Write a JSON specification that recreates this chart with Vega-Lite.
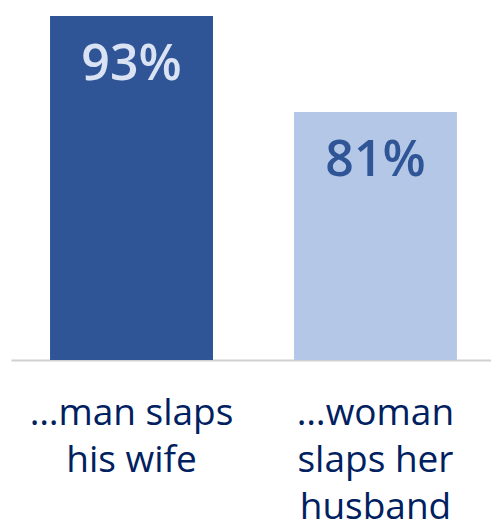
{
  "$schema": "https://vega.github.io/schema/vega-lite/v6.json",
  "width": 485,
  "height": 360,
  "autosize": "none",
  "padding": {"left": 11, "top": 0, "right": 0, "bottom": 160},
  "background": "white",
  "config": {"view": {"stroke": null}, "font": "Open Sans"},
  "data": {"values": [
    {"category": "…man slaps|his wife", "value": 93, "text": "93%"},
    {"category": "…woman|slaps her|husband", "value": 81, "text": "81%"}
  ]},
  "encoding": {
    "x": {
      "field": "category", "type": "nominal", "sort": null,
      "scale": {"paddingInner": 0.332, "paddingOuter": 0.16},
      "axis": {
        "title": null, "labelAngle": 0, "ticks": false,
        "domainColor": "#D0D0D0", "domainWidth": 2,
        "labelFont": "Open Sans", "labelFontSize": 37, "labelColor": "#002060",
        "labelPadding": 35, "labelLineHeight": 47, "labelBaseline": "top",
        "labelExpr": "split(datum.label, '|')", "labelLimit": 0
      }
    }
  },
  "layer": [
    {
      "mark": {"type": "bar"},
      "encoding": {
        "y": {"field": "value", "type": "quantitative", "scale": {"domain": [50, 95], "zero": false}, "axis": null},
        "y2": {"datum": 50},
        "color": {"field": "category", "type": "nominal", "sort": null, "scale": {"range": ["#2F5597", "#B4C7E7"]}, "legend": null}
      }
    },
    {
      "mark": {"type": "text", "baseline": "alphabetic", "dy": 64, "fontSize": 50, "fontWeight": 600, "font": "Open Sans"},
      "encoding": {
        "y": {"field": "value", "type": "quantitative"},
        "text": {"field": "text"},
        "color": {"field": "category", "type": "nominal", "sort": null, "scale": {"range": ["#DAE3F3", "#2F5597"]}, "legend": null}
      }
    }
  ],
  "resolve": {"scale": {"color": "independent"}}
}
